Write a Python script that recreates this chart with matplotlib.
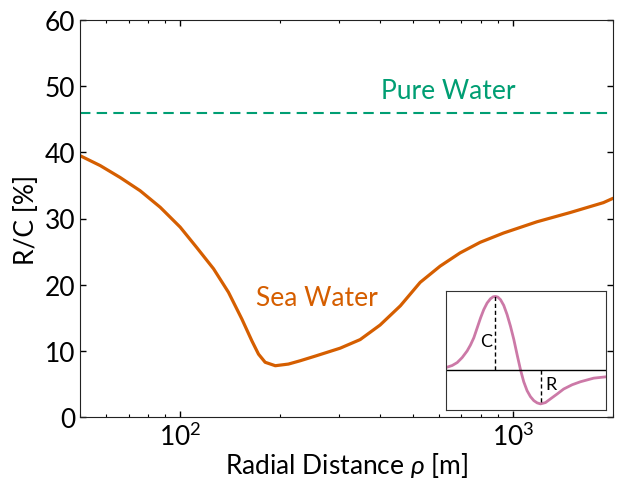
import numpy as np
import matplotlib
matplotlib.use("Agg")
import matplotlib.pyplot as plt

plt.rcParams["font.family"] = ["Lato", "DejaVu Sans"]
plt.rcParams["mathtext.fontset"] = "custom"
plt.rcParams["mathtext.rm"] = "Lato"
plt.rcParams["mathtext.it"] = "Lato:style=italic"

# ---------------------------------------------------------------------------
# Data
# ---------------------------------------------------------------------------
rho_sea = [50, 57.5, 66.0, 75.8, 87.1, 100, 112.2, 126, 139.7, 153.3,
           164.3, 172, 180.1, 193.2, 211.6, 229.5, 254.6, 302.6, 347.6, 399,
           459, 526.6, 604.5, 694, 797.5, 937, 1181, 1487, 1872, 2000]
rc_sea = [39.5, 38.0, 36.2, 34.2, 31.7, 28.7, 25.6, 22.4, 18.85, 14.8,
          11.5, 9.5, 8.27, 7.75, 8.0, 8.5, 9.2, 10.4, 11.7, 13.9,
          16.8, 20.35, 22.8, 24.8, 26.4, 27.8, 29.5, 30.9, 32.4, 33.05]
rc_pure = 46.0

# inset: schematic waveform (normalised position / amplitude)
wave_x = [0.0, 0.0375, 0.069, 0.1, 0.131, 0.152, 0.173, 0.194, 0.215, 0.235,
          0.256, 0.277, 0.294, 0.308, 0.323, 0.34, 0.36, 0.381, 0.402, 0.423,
          0.444, 0.465, 0.485, 0.506, 0.527, 0.548, 0.569, 0.59, 0.621, 0.652,
          0.694, 0.735, 0.788, 0.84, 0.923, 1.0]
wave_y = [0.032, 0.059, 0.099, 0.167, 0.257, 0.338, 0.437, 0.572, 0.707, 0.82,
          0.91, 0.968, 0.995, 1.0, 0.991, 0.955, 0.878, 0.752, 0.595, 0.414,
          0.203, 0.0, -0.162, -0.284, -0.365, -0.419, -0.45, -0.464, -0.446, -0.396,
          -0.329, -0.261, -0.203, -0.162, -0.113, -0.095]
peak_x, peak_y = 0.308, 1.0
trough_x, trough_y = 0.59, -0.464

ORANGE = "#d55e00"
GREEN = "#009e73"
PINK = "#cc79a7"

fig = plt.figure(figsize=(6.17, 4.81), dpi=100)
ax = fig.add_axes([80 / 617, 1 - 418 / 481, 533 / 617, 397 / 481])

ax.plot(rho_sea, rc_sea, color=ORANGE, lw=2.3, solid_joinstyle="round",
        solid_capstyle="round")
ax.axhline(rc_pure, color=GREEN, lw=1.5, ls=(0, (5, 3)))

ax.text(639, 49.3, "Pure Water", color=GREEN, fontsize=19,
        ha="center", va="center")
ax.text(257, 18.1, "Sea Water", color=ORANGE, fontsize=19,
        ha="center", va="center")

ax.set_xscale("log")
ax.set_xlim(50, 2000)
ax.set_ylim(0, 60)
ax.set_yticks([0, 10, 20, 30, 40, 50, 60])
ax.set_xlabel(r"Radial Distance $\rho$ [m]", fontsize=19)
ax.xaxis.set_label_coords(0.5, -0.082)
ax.set_ylabel("R/C [%]", fontsize=19, labelpad=4)
ax.tick_params(which="both", direction="in", top=True, right=True,
               labelsize=19)
ax.tick_params(which="major", length=4, width=1)
ax.tick_params(which="minor", length=2.2, width=0.8)
for s in ax.spines.values():
    s.set_color("#222222")

# inset schematic
ins = ax.inset_axes([0.687, 0.018, 0.300, 0.300])
ins.plot(wave_x, wave_y, color=PINK, lw=2, solid_joinstyle="round")
ins.axhline(0, color="black", lw=1)
ins.plot([peak_x, peak_x], [0, peak_y], color="black", lw=1, ls=(0, (3, 2)))
ins.plot([trough_x, trough_x], [0, trough_y], color="black", lw=1,
         ls=(0, (3, 2)))
ins.text(peak_x - 0.02, 0.39, "C", fontsize=13, ha="right", va="center")
ins.text(trough_x + 0.03, -0.19, "R", fontsize=13, ha="left", va="center")
ins.set_xlim(0, 1)
ins.set_ylim(-0.545, 1.077)
ins.set_xticks([])
ins.set_yticks([])
for s in ins.spines.values():
    s.set_color("#333333")

fig.savefig("out.png", dpi=100)
